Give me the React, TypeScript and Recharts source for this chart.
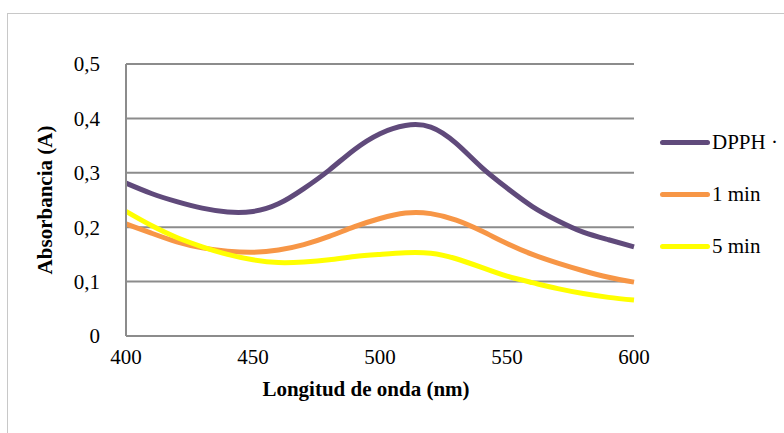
import { CartesianGrid, Legend, Line, LineChart, XAxis, YAxis } from "recharts";

const wavelengths = [400, 410, 420, 430, 440, 450, 460, 470, 480, 490, 500, 510, 520, 530, 540, 550, 560, 570, 580, 590, 600];
const dpph = [0.281, 0.262, 0.247, 0.235, 0.228, 0.229, 0.243, 0.271, 0.305, 0.343, 0.372, 0.387, 0.384, 0.354, 0.31, 0.272, 0.238, 0.212, 0.191, 0.177, 0.164];
const min1 = [0.206, 0.189, 0.173, 0.162, 0.156, 0.154, 0.158, 0.168, 0.183, 0.201, 0.216, 0.226, 0.225, 0.213, 0.193, 0.17, 0.15, 0.134, 0.12, 0.108, 0.099];
const min5 = [0.229, 0.203, 0.181, 0.164, 0.15, 0.14, 0.135, 0.136, 0.14, 0.146, 0.15, 0.153, 0.152, 0.142, 0.126, 0.11, 0.098, 0.087, 0.078, 0.071, 0.066];

const xTicks = [400, 450, 500, 550, 600];
const yTicks = [0, 0.1, 0.2, 0.3, 0.4, 0.5];

const series = [
  { key: "dpph", name: "DPPH ·", color: "#604a7b" },
  { key: "min1", name: "1 min", color: "#f79646" },
  { key: "min5", name: "5 min", color: "#ffff00" },
];

const data = wavelengths.map((w, i) => ({ w, dpph: dpph[i], min1: min1[i], min5: min5[i] }));

const font = "'Liberation Serif', serif";

function LegendBox() {
  return (
    <div style={{ fontFamily: font, fontSize: 21, color: "#000" }}>
      {series.map((s) => (
        <div key={s.key} style={{ display: "flex", alignItems: "center", height: 52, whiteSpace: "nowrap" }}>
          <div style={{ width: 50, height: 5, borderRadius: 3, background: s.color, marginRight: 2 }} />
          <span>{s.name}</span>
        </div>
      ))}
    </div>
  );
}

export default function App() {
  return (
    <div style={{ position: "fixed", left: 0, top: 0, width: 784, height: 433, overflow: "hidden", background: "#fff" }}>
      <div style={{ position: "absolute", left: 7, top: 13, width: 900, height: 450, border: "1px solid #c8c8c8" }}>
        <LineChart width={900} height={450} data={data} margin={{ top: 50, right: 34, bottom: 58, left: 18 }}>
          <CartesianGrid horizontal vertical={false} stroke="#8c8c8c" strokeWidth={2} />
          <XAxis
            dataKey="w"
            type="number"
            domain={[400, 600]}
            ticks={xTicks}
            height={70}
            tickLine={false}
            axisLine={{ stroke: "#8c8c8c", strokeWidth: 2 }}
            tickMargin={7}
            tick={{ fill: "#000", fontSize: 21, fontFamily: font }}
            label={{
              value: "Longitud de onda (nm)",
              position: "insideTop",
              offset: 45,
              dx: -14,
              style: { fill: "#000", fontSize: 21, fontWeight: "bold", fontFamily: font },
            }}
          />
          <YAxis
            type="number"
            domain={[0, 0.5]}
            ticks={yTicks}
            width={100}
            tickLine={false}
            axisLine={{ stroke: "#8c8c8c", strokeWidth: 2 }}
            tickMargin={20}
            tickFormatter={(v: number) => (v === 0 ? "0" : v.toFixed(1).replace(".", ","))}
            tick={{ fill: "#000", fontSize: 21, fontFamily: font }}
            label={{
              value: "Absorbancia (A)",
              angle: -90,
              position: "insideLeft",
              offset: 19,
              style: { fill: "#000", fontSize: 21, fontWeight: "bold", fontFamily: font, textAnchor: "middle" },
            }}
          />
          <Legend
            layout="vertical"
            align="right"
            verticalAlign="top"
            content={<LegendBox />}
            wrapperStyle={{ position: "absolute", left: 652, top: 102, width: 240 }}
          />
          {series.map((s) => (
            <Line
              key={s.key}
              type="natural"
              dataKey={s.key}
              name={s.name}
              stroke={s.color}
              strokeWidth={5}
              dot={false}
              isAnimationActive={false}
            />
          ))}
        </LineChart>
      </div>
    </div>
  );
}
